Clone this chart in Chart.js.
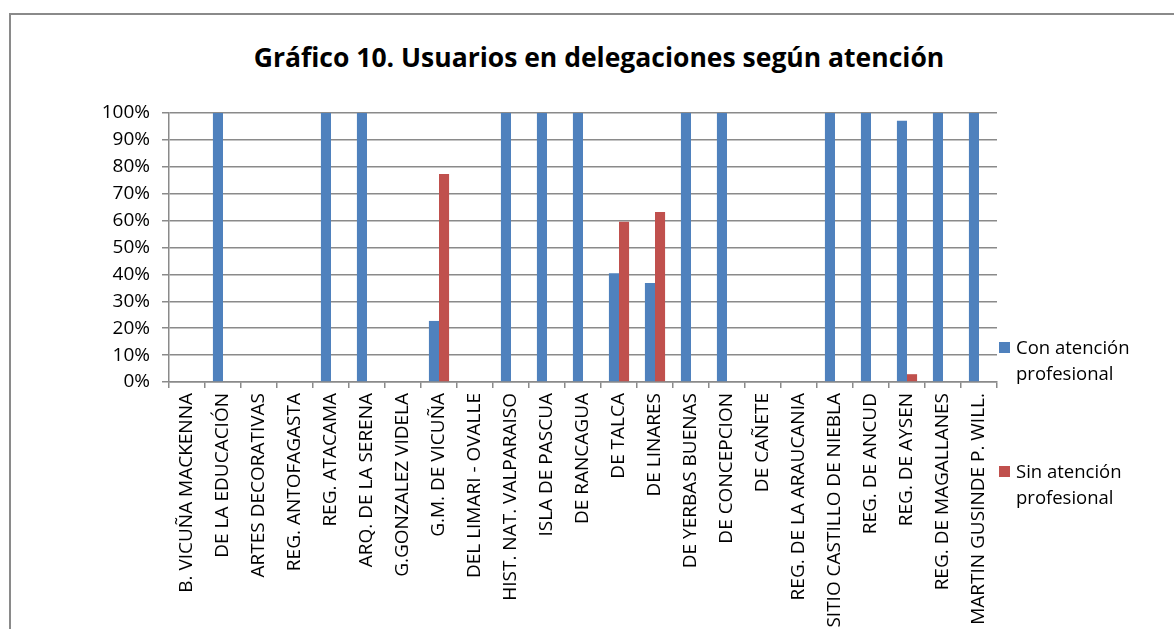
<!DOCTYPE html>
<html>
<head>
<meta charset="utf-8">
<script src="https://cdn.jsdelivr.net/npm/chart.js@4/dist/chart.umd.min.js"></script>
<style>
  html, body { margin: 0; padding: 0; background: #fff; }
  #wrap { position: relative; width: 1174px; height: 629px; overflow: hidden; font-family: "Open Sans", "Liberation Sans", sans-serif; }
  #frame { position: absolute; left: 9px; top: 13px; width: 1200px; height: 700px; border-left: 2px solid #8a8a8a; border-top: 2px solid #8a8a8a; }
  #title { position: absolute; left: 0; width: 1198px; top: 40px; text-align: center; font-weight: bold; font-size: 26.5px; line-height: 34px; color: #000; }
  #chartBox { position: absolute; left: 0; top: 0; width: 1174px; height: 629px; }
  .leg { position: absolute; left: 999px; font-size: 18.5px; line-height: 26px; color: #000; }
  .leg .sw { position: absolute; left: 0; top: 8px; width: 11px; height: 11px; }
  .leg .tx { margin-left: 17px; }
</style>
</head>
<body>
<div id="wrap">
  <div id="frame"></div>
  <div id="title">Gráfico 10. Usuarios en delegaciones según atención</div>
  <div id="chartBox"><canvas id="chart" width="1174" height="629"></canvas></div>
  <div id="legend"></div>
</div>
<script>
const categories = [
    'B. VICUÑA MACKENNA', 'DE LA EDUCACIÓN', 'ARTES DECORATIVAS', 'REG. ANTOFAGASTA',
    'REG. ATACAMA', 'ARQ. DE LA SERENA', 'G.GONZALEZ VIDELA', 'G.M. DE VICUÑA',
    'DEL LIMARI - OVALLE', 'HIST. NAT. VALPARAISO', 'ISLA DE PASCUA', 'DE RANCAGUA',
    'DE TALCA', 'DE LINARES', 'DE YERBAS BUENAS', 'DE CONCEPCION', 'DE CAÑETE',
    'REG. DE LA ARAUCANIA', 'SITIO CASTILLO DE NIEBLA', 'REG. DE ANCUD',
    'REG. DE AYSEN', 'REG. DE MAGALLANES', 'MARTIN GUSINDE P. WILL.'
];
const conAtencion = [0, 100, 0, 0, 100, 100, 0, 22.7, 0, 100, 100, 100, 40.4, 36.8, 100, 100, 0, 0, 100, 100, 97.1, 100, 100];
const sinAtencion = [0, 0, 0, 0, 0, 0, 0, 77.3, 0, 0, 0, 0, 59.6, 63.2, 0, 0, 0, 0, 0, 0, 2.9, 0, 0];
const legendLines = [['Con atención', 'profesional'], ['Sin atención', 'profesional']];
const yTicks = [0, 10, 20, 30, 40, 50, 60, 70, 80, 90, 100];

const gridColor = '#8a8a8a';
const fontFamily = '"Open Sans", "Liberation Sans", sans-serif';

const chart = new Chart(document.getElementById('chart'), {
    type: 'bar',
    data: {
        labels: categories,
        datasets: [{
            label: 'Con atención profesional',
            data: conAtencion,
            backgroundColor: '#4f81bd',
            borderWidth: 0,
            categoryPercentage: 0.56,
            barPercentage: 1
        }, {
            label: 'Sin atención profesional',
            data: sinAtencion,
            backgroundColor: '#c0504d',
            borderWidth: 0,
            categoryPercentage: 0.56,
            barPercentage: 1
        }]
    },
    options: {
        responsive: false,
        animation: false,
        layout: { padding: { top: 113, right: 177, left: 0, bottom: 0 } },
        plugins: {
            legend: { display: false },
            title: { display: false },
            tooltip: { enabled: false }
        },
        scales: {
            x: {
                grid: { drawOnChartArea: false, drawTicks: true, tickLength: 6, color: gridColor, lineWidth: 1.5 },
                border: { display: true, color: gridColor, width: 1.5 },
                ticks: { color: '#000', font: { family: fontFamily, size: 19 }, maxRotation: 90, minRotation: 90, autoSkip: false, padding: 5 },
                afterFit: s => { s.height = 247; }
            },
            y: {
                min: 0,
                max: 100,
                afterBuildTicks: s => { s.ticks = yTicks.map(v => ({ value: v })); },
                grid: { color: gridColor, lineWidth: 1.5, tickLength: 7 },
                border: { display: true, color: gridColor, width: 1.5 },
                ticks: { color: '#000', font: { family: fontFamily, size: 19 }, padding: 12, callback: v => v + '%' },
                afterFit: s => { s.width = 169; }
            }
        }
    }
});

// legend with wrapped labels, like the original
const legendTops = [334, 458];
const legend = document.getElementById('legend');
chart.data.datasets.forEach((ds, i) => {
    const item = document.createElement('div');
    item.className = 'leg';
    item.style.top = legendTops[i] + 'px';
    item.innerHTML = `<div class="sw" style="background:${ds.backgroundColor}"></div>` +
        `<div class="tx">${legendLines[i].join('<br>')}</div>`;
    legend.appendChild(item);
});
</script>
</body>
</html>
